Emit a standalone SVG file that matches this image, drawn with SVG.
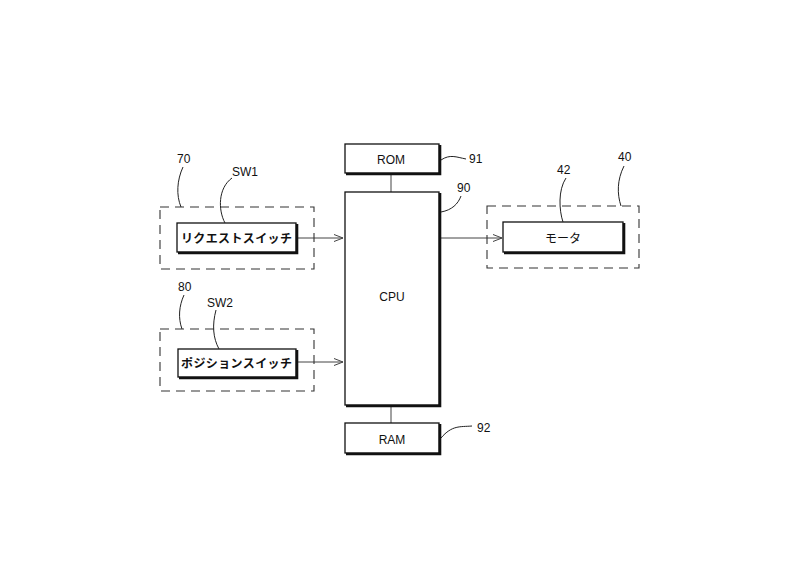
<svg xmlns="http://www.w3.org/2000/svg" width="800" height="562" viewBox="0 0 800 562">
<defs>
<style>
.bx{fill:#fff;stroke:#111;stroke-width:1.3}
.sh{fill:none;stroke:#111;stroke-width:2.6}
.dash{fill:none;stroke:#333;stroke-width:1.1;stroke-dasharray:9,6}
.ld{fill:none;stroke:#222;stroke-width:1}
.cn{fill:none;stroke:#444;stroke-width:1}
.lab{font-family:"Liberation Sans",Arial,sans-serif;font-size:12px;fill:#111}
.jp{font-family:"Noto Sans CJK JP",sans-serif;font-size:12px;fill:#111;font-weight:bold}
</style>
<marker id="ar" markerWidth="10" markerHeight="8" refX="9" refY="4" orient="auto" markerUnits="userSpaceOnUse">
<path d="M0,0.5 L9,4 L0,7.5" fill="none" stroke="#444" stroke-width="1"/>
</marker>
</defs>
<rect width="800" height="562" fill="#fff"/>
<g id="connectors">
<line class="cn" x1="297" y1="238" x2="343" y2="238" marker-end="url(#ar)"/>
<line class="cn" x1="297" y1="362" x2="343" y2="362" marker-end="url(#ar)"/>
<line class="cn" x1="440" y1="238" x2="502" y2="238" marker-end="url(#ar)"/>
<line class="cn" x1="391" y1="174" x2="391" y2="192"/>
<line class="cn" x1="391" y1="406" x2="391" y2="423"/>
</g>
<g id="n70">
<rect class="dash" x="160" y="207" width="154" height="62"/>
<text class="lab" x="177" y="163">70</text>
<path class="ld" d="M183,167 C177,180 176,195 181,207"/>
</g>
<g id="sw1">
<rect class="bx" x="177" y="223" width="119" height="29"/>
<path class="sh" d="M297,224 V253 H178"/>
<text class="jp" x="181" y="243" textLength="111" lengthAdjust="spacing">リクエストスイッチ</text>
<text class="lab" x="232" y="176">SW1</text>
<path class="ld" d="M232,178 C218,188 218,210 225,223"/>
</g>
<g id="n80">
<rect class="dash" x="160" y="329" width="154" height="62"/>
<text class="lab" x="178" y="291">80</text>
<path class="ld" d="M184,295 C179,306 178,318 182,329"/>
</g>
<g id="sw2">
<rect class="bx" x="178" y="349" width="118" height="28"/>
<path class="sh" d="M297,350 V378 H179"/>
<text class="jp" x="181" y="368" textLength="111" lengthAdjust="spacing">ポジションスイッチ</text>
<text class="lab" x="207" y="307">SW2</text>
<path class="ld" d="M216,310 C212,325 213,338 219,349"/>
</g>
<g id="rom">
<rect class="bx" x="345" y="144" width="94" height="29"/>
<path class="sh" d="M440,145 V174 H346"/>
<text class="lab" x="391" y="164" text-anchor="middle">ROM</text>
<text class="lab" x="469" y="163">91</text>
<path class="ld" d="M441,160 C450,154 456,157 466,159"/>
</g>
<g id="cpu">
<rect class="bx" x="345" y="192" width="94" height="213"/>
<path class="sh" d="M440,193 V406 H346"/>
<text class="lab" x="392" y="301" text-anchor="middle">CPU</text>
<text class="lab" x="457" y="192">90</text>
<path class="ld" d="M441,212 C452,210 458,204 461,196"/>
</g>
<g id="ram">
<rect class="bx" x="345" y="423" width="94" height="30"/>
<path class="sh" d="M440,424 V454 H346"/>
<text class="lab" x="392" y="444" text-anchor="middle">RAM</text>
<text class="lab" x="477" y="432">92</text>
<path class="ld" d="M441,438 C452,425 460,427 472,426"/>
</g>
<g id="n40">
<rect class="dash" x="487" y="206" width="152" height="62"/>
<text class="lab" x="618" y="161">40</text>
<path class="ld" d="M624,166 C617,180 617,194 621,206"/>
</g>
<g id="motor">
<rect class="bx" x="503" y="222" width="120" height="30"/>
<path class="sh" d="M624,223 V253 H504"/>
<text class="jp" x="563" y="243" text-anchor="middle" style="font-weight:normal">モータ</text>
<text class="lab" x="557" y="174">42</text>
<path class="ld" d="M566,178 C558,190 559,210 563,222"/>
</g>
</svg>
